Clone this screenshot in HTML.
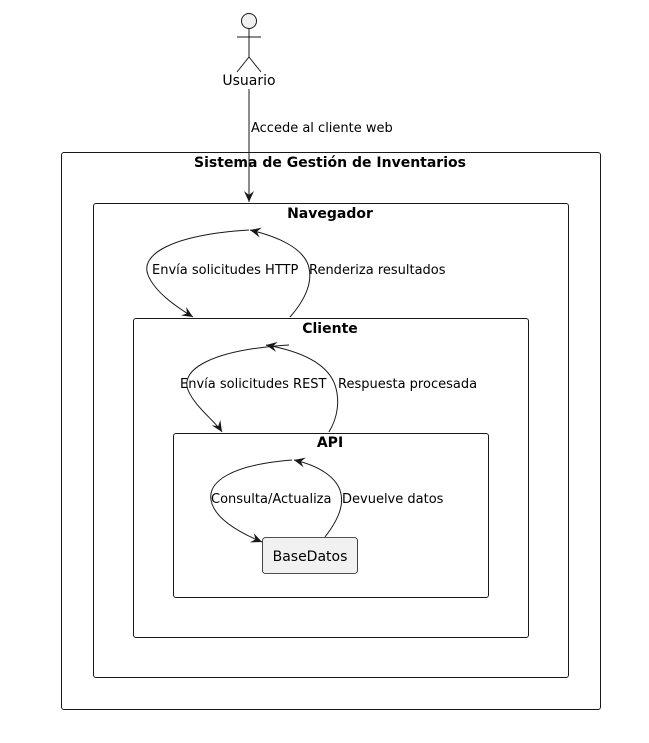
<!DOCTYPE html>
<html><head><meta charset="utf-8"><style>
html,body{margin:0;padding:0;background:#fff;}
svg{display:block;}
text{font-family:"DejaVu Sans","Liberation Sans",sans-serif;fill:#000;}
</style></head><body>
<svg width="649" height="743" viewBox="0 0 649 743" xmlns="http://www.w3.org/2000/svg">
<defs>
<marker id="a" viewBox="0 0 12 12" refX="11" refY="6" markerWidth="12" markerHeight="12" markerUnits="userSpaceOnUse" orient="auto">
<path d="M0,1 L11,6 L0,11 L4,6 Z" fill="#181818"/>
</marker>
</defs>
<g stroke="#181818" stroke-width="1" fill="none">
<circle cx="249" cy="21" r="7.5" fill="#f1f1f1"/>
<line x1="249" y1="28" x2="249" y2="57"/>
<line x1="237" y1="37" x2="261" y2="37"/>
<line x1="249" y1="57" x2="237" y2="72"/>
<line x1="249" y1="57" x2="261" y2="72"/>
</g>
<text x="249" y="85" font-size="14" text-anchor="middle">Usuario</text>
<line x1="249" y1="89" x2="249" y2="202" stroke="#181818" marker-end="url(#a)"/>
<text x="251" y="132" font-size="13">Accede al cliente web</text>

<g fill="none" stroke="#181818" stroke-width="1">
<rect x="61.5" y="152.5" width="539" height="557" rx="2.5"/>
<rect x="93.5" y="203.5" width="475" height="474" rx="2.5"/>
<rect x="133.5" y="318.5" width="395" height="319" rx="2.5"/>
<rect x="173.5" y="433.5" width="315" height="164" rx="2.5"/>
</g>
<rect x="262.5" y="537.5" width="95" height="36" rx="3" fill="#f1f1f1" stroke="#181818" stroke-width="0.8"/>
<text x="310" y="561" font-size="14" text-anchor="middle">BaseDatos</text>

<g font-size="14" font-weight="bold" text-anchor="middle">
<text x="330" y="167">Sistema de Gestión de Inventarios</text>
<text x="330" y="218">Navegador</text>
<text x="330" y="333">Cliente</text>
<text x="330" y="447">API</text>
</g>

<g fill="none" stroke="#181818" stroke-width="1">
<path d="M249,230 C170,235 140,255 148,275 C155,292 175,306 193,317" marker-end="url(#a)"/>
<path d="M290,317 C305,300 315,280 307,262 C300,248 280,237 250,230" marker-end="url(#a)"/>
<path d="M289,345 C210,350 180,370 188,390 C195,407 215,421 222,432" marker-end="url(#a)"/>
<path d="M329,432 C338,417 340,400 335,385 C328,365 305,352 266,345" marker-end="url(#a)"/>
<path d="M292,460 C230,465 208,482 211,500 C214,518 238,532 262,542" marker-end="url(#a)"/>
<path d="M325,537 C338,520 345,505 340,490 C335,477 320,466 294,460" marker-end="url(#a)"/>
</g>
<g font-size="13">
<text x="152" y="274">Envía solicitudes HTTP</text>
<text x="309" y="274">Renderiza resultados</text>
<text x="180" y="388">Envía solicitudes REST</text>
<text x="338" y="388">Respuesta procesada</text>
<text x="211" y="503">Consulta/Actualiza</text>
<text x="342" y="503">Devuelve datos</text>
</g>
</svg>
</body></html>
